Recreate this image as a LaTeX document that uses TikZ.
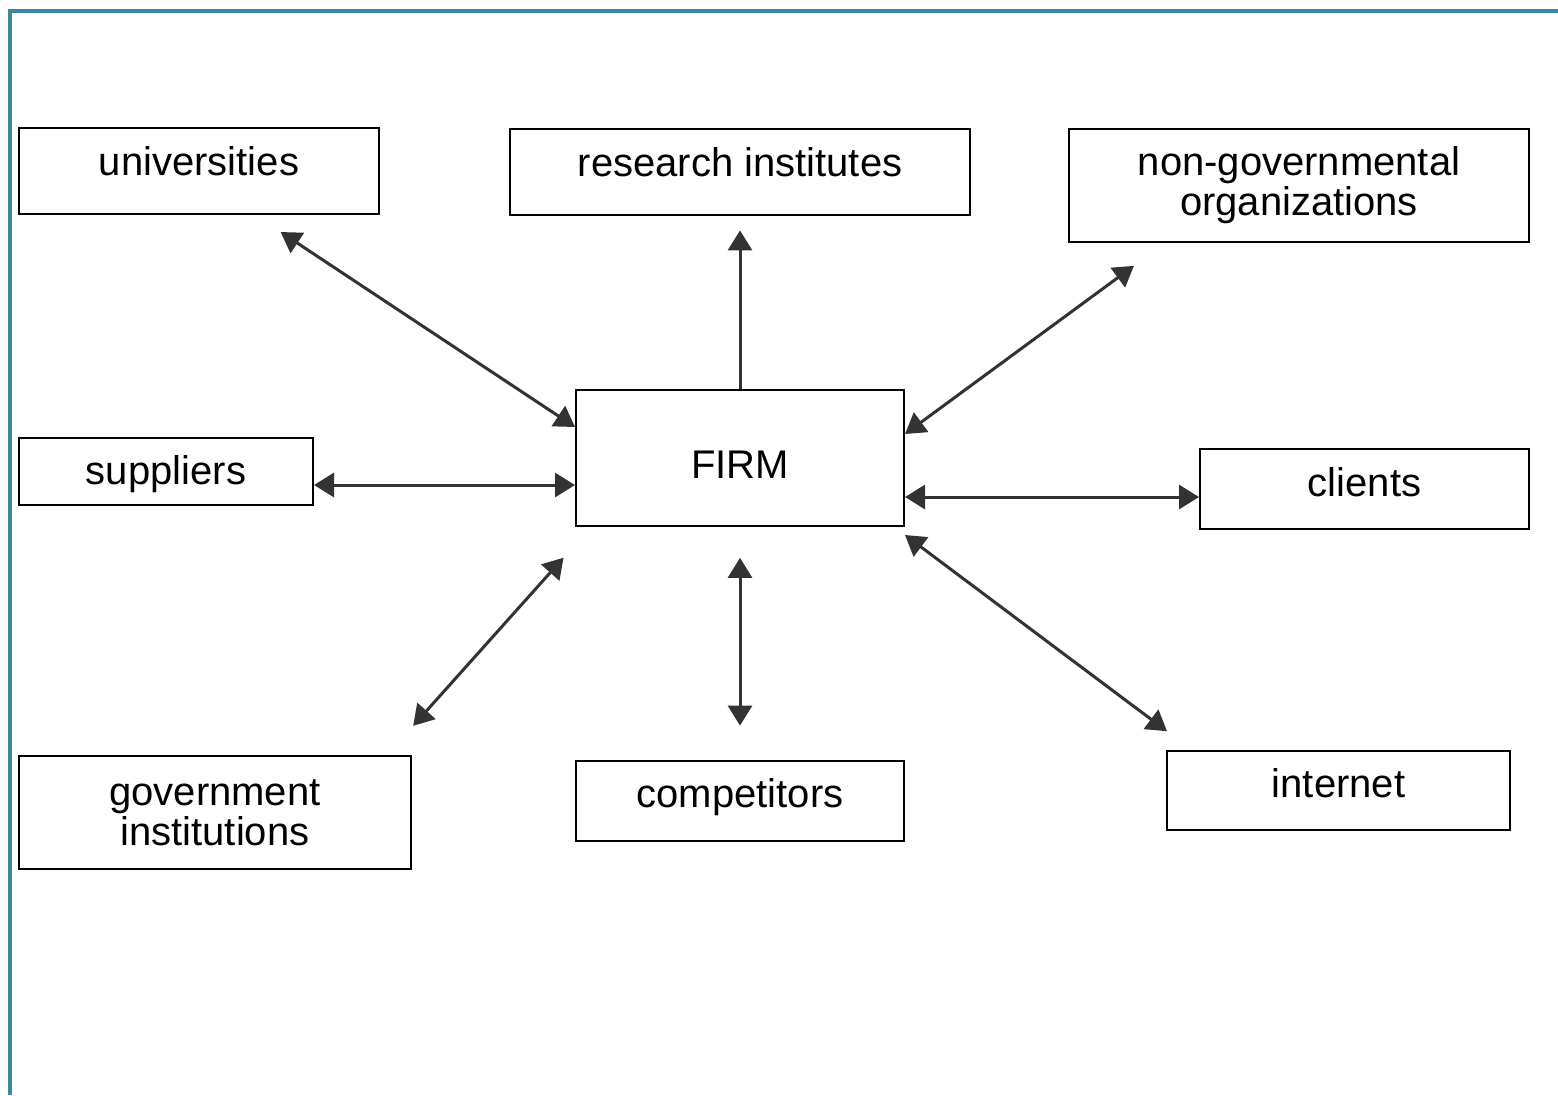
\documentclass[tikz,border=0pt]{standalone}
\usepackage{fontspec}
\setmainfont{Liberation Sans}
\usetikzlibrary{arrows.meta}
\definecolor{frameteal}{RGB}{58,136,158}
\definecolor{linkgray}{RGB}{51,51,51}
\tikzset{
box/.style = { draw, line width = 0.5pt, inner sep = 0pt, align = center, font = \fontsize{10}{10}\selectfont },
oneline/.style = { text height = 10pt, text depth = #1 }, % moves the word inside its box
link/.style = { draw = linkgray, line width = 0.75pt, > = {Triangle[length = 5pt, width = 6pt]} }
}

\begin{document}
\begin{tikzpicture}[x = 0.25pt, y = -0.25pt]
	\useasboundingbox (0,0) rectangle (1558,1095);
	\draw[frameteal, line width = 1.1pt] (10,1095) -- (10,11) -- (1558,11);

	\node[box, oneline = 7.7pt, minimum width = 90pt, minimum height = 21.5pt] (univ) at (199,171) {universities};
	\node[box, oneline = 7.7pt, minimum width = 115pt, minimum height = 21.5pt] (research) at (740,172) {research institutes};
	\node[box, minimum width = 115pt, minimum height = 28.25pt] (ngo) at (1299,185.5) {non-governmental\\organizations};
	\node[box, oneline = 3.6pt, minimum width = 73.5pt, minimum height = 16.75pt] (sup) at (166,471.5) {suppliers};
	\node[box, oneline = -0.6pt, minimum width = 82pt, minimum height = 34pt] (firm) at (740,458) {FIRM};
	\node[box, oneline = 6.4pt, minimum width = 82.25pt, minimum height = 20pt] (clients) at (1364.5,489) {clients};
	\node[box, minimum width = 98pt, minimum height = 28.25pt] (gov) at (215,812.5) {government\\institutions};
	\node[box, oneline = 6.6pt, minimum width = 82pt, minimum height = 20pt] (comp) at (740,801) {competitors};
	\node[box, oneline = 6.6pt, minimum width = 85.75pt, minimum height = 19.75pt] (internet) at (1338.5,790.5) {internet};

	\draw[link, <->, shorten <= 7.7pt] ([xshift = 14pt]univ.south) -- ([yshift = 7.75pt]firm.west);
	\draw[link, ->, shorten >= 3.6pt] (firm.north) -- (research.south);
	\draw[link, <->, shorten >= 9.65pt] ([yshift = 6pt]firm.east) -- ([xshift = -33.5pt]ngo.south);
	\draw[link, <->] ([yshift = -3.375pt]sup.east) -- ([yshift = -6.75pt]firm.west);
	\draw[link, <->] ([yshift = -9.75pt]firm.east) -- ([yshift = -2pt]clients.west);
	\draw[link, <->, shorten >= 7.85pt] ([yshift = -2pt]firm.south east) -- ([xshift = -36.6pt]internet.north);
	\draw[link, <->, shorten <= 9.8pt, shorten >= 10.3pt] ([xshift = -6.25pt]gov.north east) -- ([xshift = 4pt]firm.south west);
	\draw[link, <->, shorten <= 7.7pt, shorten >= 8.6pt] (firm.south) -- (comp.north);
\end{tikzpicture}
\end{document}
